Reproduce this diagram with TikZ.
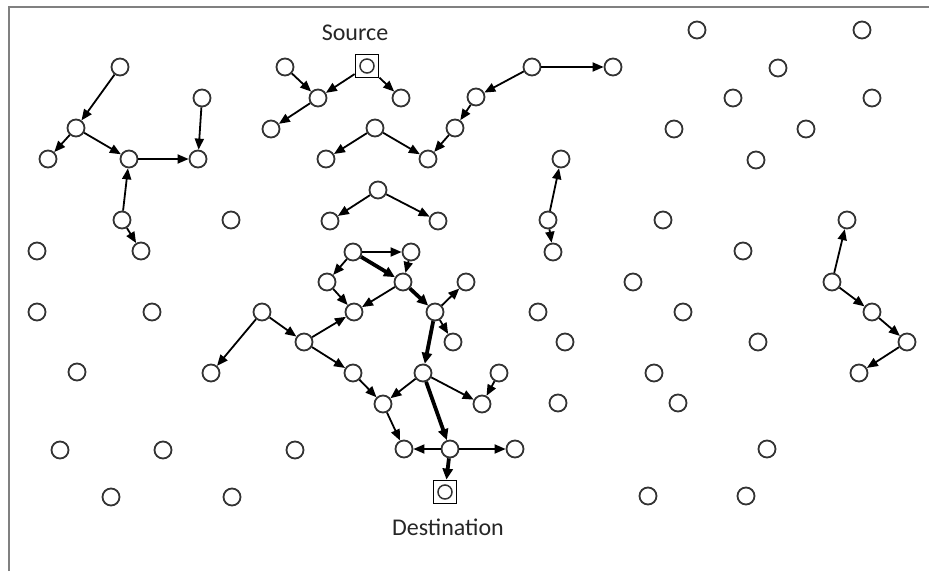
\documentclass[tikz,border=0pt]{standalone}
\usepackage{fontspec}
\setmainfont{Carlito}
\usetikzlibrary{arrows.meta}
\begin{document}
\begin{tikzpicture}[x=1pt,y=-1pt,
  nd/.style={circle,draw=black!80,line width=1.8pt,minimum size=17pt,inner sep=0pt},
  ndin/.style={circle,draw=black!80,line width=1.5pt,minimum size=14pt,inner sep=0pt},
  term/.style={rectangle,draw=black,line width=1.8pt,minimum size=23pt,inner sep=0pt},
  ed/.style={line width=1.8pt,-{Triangle[length=11pt,width=9pt]}},
  route/.style={line width=3.8pt,-{Triangle[length=11pt,width=10pt]}},
  lbl/.style={font=\fontsize{24}{28}\selectfont,inner sep=0pt,text=black!85}]
\useasboundingbox (0,0) rectangle (929,571);
% frame
\draw[gray,line width=2.5pt] (9,571) -- (9,7) -- (929,7);

% source and destination
\node[term] (src) at (367,66) {};
\node[ndin] (srcin) at (367,66) {};
\node[term] (dst) at (445,492) {};
\node[ndin] (dstin) at (445,492) {};
\node[lbl] (srclbl) at (355,33) {Source};
\node[lbl] (dstlbl) at (448,527) {Destination};

% sensor nodes
\foreach \n/\p in {
  a/{120,67}, b/{76,128}, c/{48,159}, d/{129,159}, e/{202,98}, f/{198,159},
  g/{122,220}, h/{141,251}, i/{37,251}, j/{231,220}, k/{285,67}, l/{271,129},
  m/{318,98}, n/{401,98}, o/{375,128}, p/{326,159}, q/{428,159}, r/{476,97},
  s/{455,128}, t/{532,67}, u/{613,67}, v/{378,190}, w/{330,221}, x/{438,221},
  y/{561,159}, z/{548,220}, zz/{553,252},
  r1/{697,30}, r2/{862,30}, r3/{778,68}, r4/{733,98}, r5/{872,98},
  r6/{674,129}, r7/{806,129}, r8/{756,160}, r9/{663,220}, r10/{847,220},
  r11/{743,251}, r12/{633,282}, r13/{832,282}, r14/{683,312}, r15/{872,312},
  r16/{565,342}, r17/{758,342}, r18/{907,342}, r19/{654,373}, r20/{859,373},
  r21/{558,403}, r22/{678,403}, r23/{767,449}, r24/{648,496}, r25/{746,496},
  r26/{538,312},
  l1/{37,312}, l2/{152,312}, l3/{262,312}, l4/{77,372}, l5/{211,373},
  l6/{60,450}, l7/{163,450}, l8/{295,450}, l9/{111,497}, l10/{232,497},
  c1/{353,252}, c2/{411,252}, c3/{327,282}, c4/{403,282}, c5/{466,282},
  c6/{354,312}, c7/{435,312}, c8/{304,342}, c9/{453,342}, c10/{353,373},
  c11/{423,373}, c12/{499,373}, c13/{383,404}, c14/{482,404}, c15/{404,449},
  c16/{450,449}, c17/{515,449}}
  \node[nd] (\n) at (\p) {};

% ordinary links
\foreach \s/\t in {
  a/b, b/c, b/d, d/f, e/f, g/d, g/h,
  k/m, src/m, src/n, m/l, o/p, o/q, t/r, r/s, s/q, t/u, v/w, v/x,
  z/y, z/zz, r13/r10, r13/r15, r15/r18, r18/r20,
  l3/l5, l3/c8, c8/c6, c8/c10, c10/c13, c13/c15,
  c1/c2, c1/c3, c3/c6, c4/c6, c2/c4, c7/c5, c7/c9,
  c11/c13, c11/c14, c12/c14, c16/c15, c16/c17}
  \draw[ed] (\s) -- (\t);

% selected route to the destination
\foreach \s/\t in {c1/c4, c4/c7, c7/c11, c11/c16, c16/dst}
  \draw[route] (\s) -- (\t);
\end{tikzpicture}
\end{document}
